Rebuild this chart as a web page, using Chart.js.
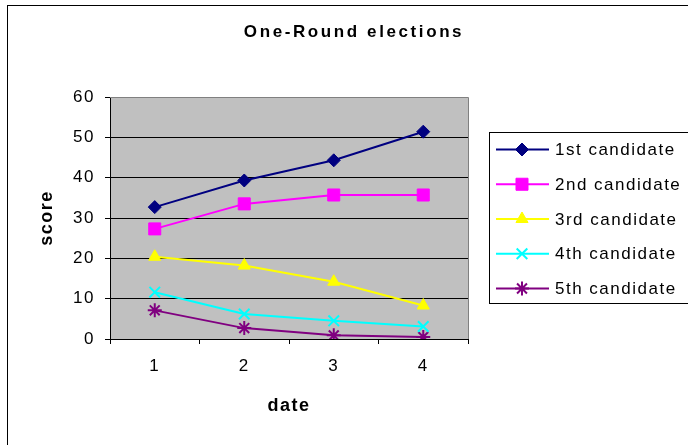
<!DOCTYPE html>
<html>
<head>
<meta charset="utf-8">
<script src="https://cdn.jsdelivr.net/npm/chart.js@4/dist/chart.umd.min.js"></script>
<style>
  html, body { margin: 0; padding: 0; background: #fff; }
</style>
</head>
<body>
<canvas id="myChart" width="688" height="445"></canvas>
<script>
// dates on the x axis
var dates = ["1", "2", "3", "4"];

// scores per candidate
var first  = [32.7, 39.3, 44.3, 51.4];
var second = [27.3, 33.5, 35.7, 35.7];
var third  = [20.4, 18.2, 14.2, 8.3];
var fourth = [11.6, 6.2, 4.5, 3.1];
var fifth  = [7.1, 2.7, 0.9, 0.5];

var seriesNames = ["1st candidate", "2nd candidate", "3rd candidate", "4th candidate", "5th candidate"];
var yTicks = [0, 10, 20, 30, 40, 50, 60];

var FONT = "'Liberation Sans', Arial, sans-serif";

function makeSet(label, data, color, style, radius, filled) {
    return {
        label: label,
        data: data,
        borderColor: color,
        backgroundColor: color,
        borderWidth: 2,
        pointStyle: style,
        pointRadius: radius,
        pointHoverRadius: radius,
        pointBackgroundColor: filled ? color : "rgba(0,0,0,0)",
        pointBorderColor: color,
        pointBorderWidth: filled ? 1 : 2,
        tension: 0
    };
}

var datasets = [
    makeSet(seriesNames[0], first, "#000080", "rectRot", 6.5, true),
    makeSet(seriesNames[1], second, "#FF00FF", "rect", 8.5, true),
    makeSet(seriesNames[2], third, "#FFFF00", "triangle", 7, true),
    makeSet(seriesNames[3], fourth, "#00FFFF", "crossRot", 7.5, false),
    makeSet(seriesNames[4], fifth, "#800080", "star", 7, false)
];

// white page, outer frame, grey plot area, custom title and legend
var excelLook = {
    id: "excelLook",
    beforeDraw: function(chart) {
        var ctx = chart.ctx;
        var a = chart.chartArea;
        ctx.save();
        ctx.fillStyle = "#fff";
        ctx.fillRect(0, 0, chart.width, chart.height);
        ctx.strokeStyle = "#000";
        ctx.lineWidth = 1;
        ctx.strokeRect(7.5, 5.5, 900, 900);
        ctx.fillStyle = "#C0C0C0";
        ctx.fillRect(a.left, a.top, a.right - a.left, a.bottom - a.top);
        ctx.restore();
        ctx.letterSpacing = "1.5px";
    },
    beforeDatasetsDraw: function(chart) {
        var ctx = chart.ctx;
        var a = chart.chartArea;
        ctx.save();
        ctx.strokeStyle = "#808080";
        ctx.lineWidth = 1;
        ctx.beginPath();
        ctx.moveTo(a.left, Math.round(a.top) + 0.5);
        ctx.lineTo(Math.round(a.right) + 0.5, Math.round(a.top) + 0.5);
        ctx.lineTo(Math.round(a.right) + 0.5, a.bottom);
        ctx.stroke();
        ctx.restore();
    },
    afterDraw: function(chart) {
        var ctx = chart.ctx;
        ctx.save();
        // title
        ctx.letterSpacing = "2.6px";
        ctx.fillStyle = "#000";
        ctx.font = "bold 17px " + FONT;
        ctx.textAlign = "center";
        ctx.textBaseline = "middle";
        ctx.fillText("One-Round elections", 354, 32);

        // legend
        ctx.letterSpacing = "1.5px";
        ctx.strokeStyle = "#000";
        ctx.lineWidth = 1;
        ctx.strokeRect(489.5, 132.5, 300, 171);
        ctx.font = "17px " + FONT;
        ctx.textAlign = "left";
        chart.data.datasets.forEach(function(ds, i) {
            var y = 149.5 + i * 34.75;
            ctx.strokeStyle = ds.borderColor;
            ctx.lineWidth = 2;
            ctx.beginPath();
            ctx.moveTo(496, y);
            ctx.lineTo(549, y);
            ctx.stroke();
            ctx.fillStyle = ds.pointBackgroundColor;
            ctx.strokeStyle = ds.pointBorderColor;
            ctx.lineWidth = ds.pointBorderWidth;
            Chart.helpers.drawPoint(ctx, {
                pointStyle: ds.pointStyle,
                radius: ds.pointRadius,
                borderWidth: ds.pointBorderWidth,
                rotation: 0
            }, 522, y);
            ctx.fillStyle = "#000";
            ctx.fillText(ds.label, 555, y + 1);
        });
        ctx.restore();
    }
};

new Chart("myChart", {
    type: "line",
    data: {
        labels: dates,
        datasets: datasets
    },
    plugins: [excelLook],
    options: {
        responsive: false,
        animation: false,
        devicePixelRatio: 1,
        layout: {
            padding: {left: 20, right: 220, top: 97, bottom: 0}
        },
        plugins: {
            legend: {display: false},
            title: {display: false},
            tooltip: {enabled: false}
        },
        scales: {
            x: {
                type: "category",
                offset: true,
                grid: {
                    offset: true,
                    drawOnChartArea: false,
                    drawTicks: true,
                    tickLength: 5,
                    color: "#000"
                },
                border: {color: "#000", width: 1},
                ticks: {
                    color: "#000",
                    font: {family: FONT, size: 17},
                    padding: 12,
                    maxRotation: 0
                },
                title: {
                    display: true,
                    text: "date",
                    color: "#000",
                    font: {family: FONT, size: 18, weight: "bold"},
                    padding: {top: 0, bottom: 28}
                },
                afterFit: function(s) { s.height = 106; }
            },
            y: {
                min: 0,
                max: 60,
                afterBuildTicks: function(s) {
                    s.ticks = yTicks.map(function(v) { return {value: v}; });
                },
                grid: {
                    color: "#000",
                    lineWidth: 1,
                    drawTicks: true,
                    tickLength: 5
                },
                border: {color: "#000", width: 1},
                ticks: {
                    color: "#000",
                    font: {family: FONT, size: 17},
                    padding: 10
                },
                title: {
                    display: true,
                    text: "score",
                    color: "#000",
                    font: {family: FONT, size: 18, weight: "bold"},
                    padding: {top: 16, bottom: 0}
                },
                afterFit: function(s) { s.width = 90; }
            }
        }
    }
});
</script>
</body>
</html>
